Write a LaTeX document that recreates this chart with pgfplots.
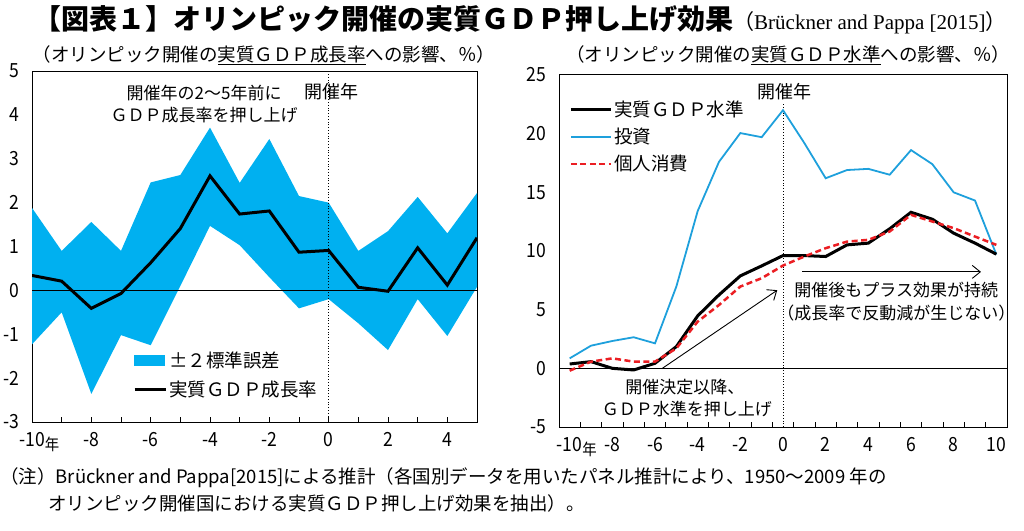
\documentclass[border=0pt]{standalone}
\usepackage{pgfplots}
\pgfplotsset{compat=1.18}
\usepgfplotslibrary{fillbetween}
\usetikzlibrary{arrows.meta}
\usepackage{fontspec}
\setmainfont{Noto Sans CJK JP}
\newfontfamily\narrow[FakeStretch=0.9]{Noto Sans CJK JP}
\newfontfamily\tnr{Liberation Serif}
\definecolor{band}{RGB}{0,176,240}
\definecolor{inv}{RGB}{30,160,220}
\definecolor{cons}{RGB}{235,30,35}
\newcommand\fs[1]{\fontsize{#1}{#1}\selectfont}

\begin{document}
\begin{tikzpicture}
\node[anchor=west, inner sep=0] at (33pt,510pt) {\fs{28}\bfseries 【図表１】オリンピック開催の実質ＧＤＰ押し上げ効果\mdseries\fs{21}（{\tnr Brückner and Pappa [2015]}）};
\node[inner sep=0] at (264pt,475pt) {\fs{18.5}（オリンピック開催の\underline{実質ＧＤＰ成長率}への影響、％）};
\node[inner sep=0] at (788pt,475pt) {\fs{18.5}（オリンピック開催の\underline{実質ＧＤＰ水準}への影響、％）};
\node[anchor=west, inner sep=0] at (0pt,52pt) {\fs{18.5}（注）Brückner and Pappa[2015]による推計（各国別データを用いたパネル推計により、1950～2009 年の};
\node[anchor=west, inner sep=0] at (48pt,27pt) {\fs{18.5}オリンピック開催国における実質ＧＤＰ押し上げ効果を抽出）。};

% ---------------- left panel
\begin{axis}[
 at={(32pt,108pt)}, anchor=south west, scale only axis, width=445pt, height=351pt,
 xmin=-10, xmax=5, ymin=-3, ymax=5,
 axis line style={line width=1pt},
 tick align=inside, xtick pos=left, ytick pos=left,
 xtick={-10,-8,...,4}, minor xtick={-9,-7,...,5},
 xticklabels={{-10\rlap{\raisebox{-4pt}{\fs{16}年}}},-8,-6,-4,-2,0,2,4},
 ytick={-3,...,5}, yticklabels={-3,-2,-1,0,1,2,3,4,5},
 major tick length=5pt, minor tick length=5pt,
 tick style={black, line width=0.8pt},
 ytick style={draw=none},
 tick label style={font=\narrow\fs{19.5}},
 xticklabel style={yshift=-7pt},
 yticklabel style={xshift=-9pt},
 legend style={at={(axis cs:-6.6,-1.34)}, anchor=north west, draw=none, fill=none, inner sep=0pt, font=\fs{18.5}, row sep=8pt},
 legend cell align=left,
]
\addlegendimage{legend image code/.code={\fill[band] (0pt,-5pt) rectangle (30pt,5pt);}}
\addlegendentry{±２標準誤差}
\addlegendimage{legend image code/.code={\draw[black,line width=3pt] (0pt,0pt) -- (31pt,0pt);}}
\addlegendentry{実質ＧＤＰ成長率}
\addplot[name path=up, draw=none, forget plot] coordinates {
(-10,1.88) (-9,0.90) (-8,1.56) (-7,0.90) (-6,2.46) (-5,2.63) (-4,3.71) (-3,2.45)
(-2,3.45) (-1,2.15) (0,2.00) (1,0.90) (2,1.35) (3,2.13) (4,1.30) (5,2.22)};
\addplot[name path=lo, draw=none, forget plot] coordinates {
(-10,-1.23) (-9,-0.50) (-8,-2.36) (-7,-1.02) (-6,-1.25) (-5,0.10) (-4,1.47) (-3,1.03)
(-2,0.30) (-1,-0.41) (0,-0.20) (1,-0.75) (2,-1.36) (3,-0.20) (4,-1.04) (5,0.08)};
\addplot[band, forget plot] fill between[of=up and lo];
\addplot[black, line width=0.8pt, forget plot] coordinates {(-10,0) (5,0)};
\addplot[black, dotted, line width=0.8pt, forget plot] coordinates {(0,-3) (0,5)};
\addplot[black, line width=3pt, forget plot] coordinates {
(-10,0.34) (-9,0.21) (-8,-0.41) (-7,-0.07) (-6,0.63) (-5,1.41) (-4,2.61) (-3,1.74)
(-2,1.81) (-1,0.87) (0,0.91) (1,0.07) (2,-0.02) (3,0.97) (4,0.12) (5,1.20)};
\node[font=\fs{17}] at (axis cs:-4.2,4.49) {開催年の2～5年前に};
\node[font=\fs{17}] at (axis cs:-4.2,3.99) {ＧＤＰ成長率を押し上げ};
\node[font=\fs{18}] at (axis cs:0.1,4.53) {開催年};
\end{axis}

% ---------------- right panel
\begin{axis}[
 at={(559pt,103pt)}, anchor=south west, scale only axis, width=448pt, height=352pt,
 xmin=-10.5, xmax=10.5, ymin=-5, ymax=25,
 axis line style={line width=1pt},
 tick align=inside, xtick pos=left, ytick pos=left,
 xtick={-10,-8,...,10}, minor xtick={-9.5,-8.5,...,9.5},
 xticklabels={{-10\rlap{\raisebox{-4pt}{\fs{16}年}}},-8,-6,-4,-2,0,2,4,6,8,10},
 ytick={-5,0,...,25}, yticklabels={-5,0,5,10,15,20,25},
 major tick length=0pt, minor tick length=5pt,
 tick style={black, line width=0.8pt},
 ytick style={draw=none},
 tick label style={font=\narrow\fs{19.5}},
 xticklabel style={yshift=-7pt},
 yticklabel style={xshift=-9pt},
 legend style={at={(axis cs:-10.02,22.95)}, anchor=north west, draw=none, fill=none, inner sep=0pt, font=\fs{18.5}, row sep=6pt},
 legend cell align=left,
]
\addlegendimage{legend image code/.code={\draw[black,line width=3pt] (0pt,0pt) -- (40pt,0pt);}}
\addlegendentry{実質ＧＤＰ水準}
\addlegendimage{legend image code/.code={\draw[inv,line width=1.8pt] (0pt,0pt) -- (40pt,0pt);}}
\addlegendentry{投資}
\addlegendimage{legend image code/.code={\draw[cons,line width=2.5pt,dash pattern=on 6pt off 3.5pt] (0pt,0pt) -- (40pt,0pt);}}
\addlegendentry{個人消費}
\addplot[black, line width=0.8pt, forget plot] coordinates {(-10.5,0) (10.5,0)};
\addplot[black, dotted, line width=0.8pt, forget plot] coordinates {(0,-5) (0,22.5)};
\addplot[inv, line width=1.8pt, forget plot] coordinates {
(-10,0.85) (-9,1.93) (-8,2.33) (-7,2.65) (-6,2.13) (-5,6.97) (-4,13.4) (-3,17.6)
(-2,20.05) (-1,19.7) (0,22.0) (1,19.2) (2,16.2) (3,16.9) (4,17.0) (5,16.5)
(6,18.6) (7,17.4) (8,15.0) (9,14.3) (10,9.7)};
\addplot[black, line width=3pt, forget plot] coordinates {
(-10,0.37) (-9,0.57) (-8,0.0) (-7,-0.14) (-6,0.43) (-5,1.85) (-4,4.47) (-3,6.26)
(-2,7.88) (-1,8.73) (0,9.61) (1,9.61) (2,9.53) (3,10.52) (4,10.67) (5,11.89)
(6,13.3) (7,12.71) (8,11.52) (9,10.67) (10,9.73)};
\addplot[cons, line width=2.5pt, dash pattern=on 6pt off 3.5pt, forget plot] coordinates {
(-10,-0.2) (-9,0.57) (-8,0.85) (-7,0.57) (-6,0.57) (-5,1.7) (-4,3.98) (-3,5.4)
(-2,6.97) (-1,7.68) (0,8.76) (1,9.53) (2,10.24) (3,10.8) (4,10.95) (5,11.66)
(6,13.08) (7,12.51) (8,11.95) (9,11.23) (10,10.52)};
\draw[-{Straight Barb[length=8pt,width=13pt]}, line width=0.9pt] (axis cs:-5.68,-0.03) -- (axis cs:-0.27,6.66);
\draw[-{Straight Barb[length=8pt,width=13pt]}, line width=0.9pt] (axis cs:0.9,8.22) -- (axis cs:9.28,8.22);
\node[font=\fs{18}] at (axis cs:0.07,23.55) {開催年};
\node[font=\fs{17}, anchor=west] at (axis cs:-7.56,-1.6) {開催決定以降、};
\node[font=\fs{17}, anchor=west] at (axis cs:-8.66,-3.44) {ＧＤＰ水準を押し上げ};
\node[font=\fs{17}] at (axis cs:5.31,6.66) {開催後もプラス効果が持続};
\node[font=\fs{17}] at (axis cs:5.31,4.67) {（成長率で反動減が生じない）};
\end{axis}
\pgfresetboundingbox
\path[use as bounding box] (0pt,0pt) rectangle (1024pt,530pt);
\end{tikzpicture}
\end{document}
